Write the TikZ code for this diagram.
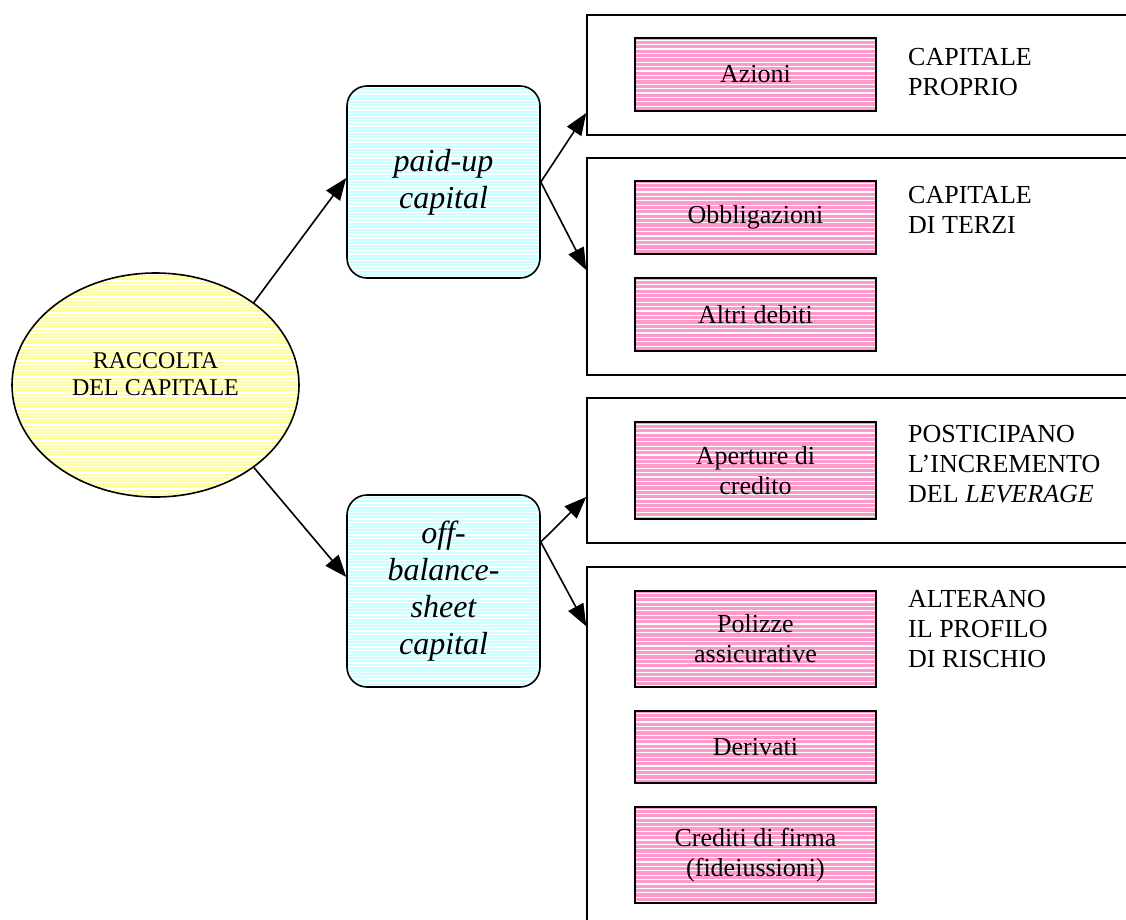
\documentclass[tikz,border=0pt]{standalone}
\usepackage{fontspec}
\setmainfont{Liberation Serif}
\usetikzlibrary{arrows.meta}
\usetikzlibrary{shapes.geometric}

\definecolor{yellowfill}{HTML}{FFFF99}
\definecolor{cyanfill}{HTML}{CCFFFF}
\definecolor{pinkfill}{HTML}{FF99CC}

\begin{document}
\begin{tikzpicture}[x=1pt, y=-1pt,
	stripes/.style={path picture={
		\foreach \i in {1, ..., 75}
			\draw[white, line width=1.2pt] ([yshift={-(\i-0.5)*#1pt}]path picture bounding box.north west) -- ([yshift={-(\i-0.5)*#1pt}]path picture bounding box.north east);
	}},
	frame/.style={draw, line width=1.6pt, minimum width=560pt, inner sep=0pt},
	item/.style={draw, line width=1.6pt, fill=pinkfill, stripes=4.4, minimum width=241pt, inner sep=0pt, align=center, font=\fontsize{26}{30}\selectfont},
	capbox/.style={draw, line width=1.6pt, rounded corners=20pt, fill=cyanfill, stripes=3.2, minimum width=193pt, minimum height=192pt, inner sep=0pt, align=center, font=\fontsize{32}{36.8}\selectfont\itshape},
	sidetext/.style={anchor=north west, inner sep=0pt, align=left, font=\fontsize{26}{30}\selectfont},
	conn/.style={-{Triangle[length=22pt, width=17pt]}, line width=1.6pt}
]

	\def\itemx{755.5}
	\def\framex{867}
	\def\textx{908}

	\useasboundingbox (0, 0) rectangle (1126, 919);
	\clip (0, 0) rectangle (1126, 919);

	\node[ellipse, draw, line width=1.6pt, fill=yellowfill, stripes=3.2, minimum width=287pt, minimum height=224pt, inner sep=0pt] (raccolta) at (155.5, 385) {};
	\node[align=center, font=\fontsize{24}{27.6}\selectfont] (raccoltatext) at ([yshift=11pt]raccolta.center) {RACCOLTA\\DEL CAPITALE};

	\node[capbox] (paid) at (443.5, 182) {paid-up\\capital};
	\node[capbox] (off) at (443.5, 591) {off-\\balance-\\sheet\\capital};

	\node[frame, minimum height=120pt] (frame1) at (\framex, 75) {};
	\node[frame, minimum height=217pt] (frame2) at (\framex, 266.5) {};
	\node[frame, minimum height=145pt] (frame3) at (\framex, 470.5) {};
	\node[frame, minimum height=393pt] (frame4) at (\framex, 763.5) {};

	\node[item, minimum height=73pt] (azioni) at (\itemx, 74.5) {Azioni};
	\node[item, minimum height=73pt] (obbligazioni) at (\itemx, 217.5) {Obbligazioni};
	\node[item, minimum height=73pt] (debiti) at (\itemx, 314.5) {Altri debiti};
	\node[item, minimum height=97pt] (aperture) at (\itemx, 470.5) {Aperture di\\credito};
	\node[item, minimum height=96pt] (polizze) at (\itemx, 639) {Polizze\\assicurative};
	\node[item, minimum height=72pt] (derivati) at (\itemx, 747) {Derivati};
	\node[item, minimum height=96pt] (crediti) at (\itemx, 855) {Crediti di firma\\(fideiussioni)};

	\node[sidetext] (proprio) at (\textx, 48) {CAPITALE\\PROPRIO};
	\node[sidetext] (terzi) at (\textx, 186) {CAPITALE\\DI TERZI};
	\node[sidetext] (posticipano) at (\textx, 425) {POSTICIPANO\\L’INCREMENTO\\DEL \textit{LEVERAGE}};
	\node[sidetext] (alterano) at (\textx, 590) {ALTERANO\\IL PROFILO\\DI RISCHIO};

	\draw[conn] (raccolta.40) -- ([yshift=4pt]paid.west);
	\draw[conn] (raccolta.-40) -- ([yshift=14pt]off.west);
	\draw[conn] (paid.east) -- ([yshift=-38pt]frame1.west);
	\draw[conn] (paid.east) -- ([yshift=-3.5pt]frame2.west);
	\draw[conn] ([yshift=49pt]off.east) -- ([yshift=-26.5pt]frame3.west);
	\draw[conn] ([yshift=49pt]off.east) -- ([yshift=-60pt]frame4.north west);

\end{tikzpicture}
\end{document}
